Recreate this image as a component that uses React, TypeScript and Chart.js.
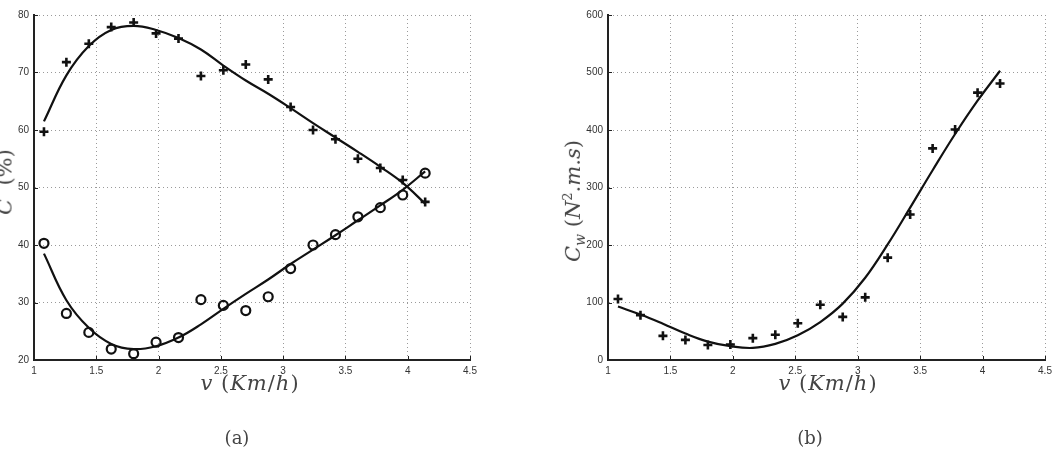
import React, { useEffect, useRef } from 'react';
import { Chart, registerables } from 'chart.js';
Chart.register(...registerables);

const speeds = [1.08, 1.26, 1.44, 1.62, 1.8, 1.98, 2.16, 2.34, 2.52, 2.7, 2.88, 3.06, 3.24, 3.42, 3.6, 3.78, 3.96, 4.14];
const effPlus = [59.7, 71.8, 75.0, 77.9, 78.7, 76.8, 75.9, 69.4, 70.4, 71.4, 68.8, 64.0, 60.0, 58.4, 55.0, 53.4, 51.3, 47.5];
const effPlusFit = [61.5, 69.5, 74.6, 77.4, 78.1, 77.4, 76.0, 74.0, 71.2, 68.6, 66.3, 63.8, 61.2, 58.7, 56.2, 53.6, 50.8, 47.2];
const effCircle = [40.3, 28.1, 24.8, 21.9, 21.1, 23.1, 23.9, 30.5, 29.5, 28.6, 31.0, 35.9, 40.0, 41.8, 44.9, 46.5, 48.7, 52.5];
const effCircleFit = [38.5, 30.4, 25.6, 22.8, 21.9, 22.4, 23.9, 26.2, 28.9, 31.5, 34.0, 36.7, 39.2, 41.7, 44.3, 46.9, 49.6, 52.8];
const costPlus = [106, 78, 42, 35, 26, 27, 38, 44, 64, 96, 75, 109, 178, 253, 368, 401, 465, 481];
const costFit = [93, 79, 63, 46, 32, 24, 21, 28, 43, 66, 98, 143, 201, 265, 330, 393, 451, 503];
const xTicks = [1, 1.5, 2, 2.5, 3, 3.5, 4, 4.5];
const effTicks = [20, 30, 40, 50, 60, 70, 80];
const costTicks = [0, 100, 200, 300, 400, 500, 600];

const pts = (ys: number[]) => speeds.map((x, i) => ({ x, y: ys[i] }));

const inwardTicks = {
  id: 'inwardTicks',
  afterDatasetsDraw(chart: any) {
    const { ctx, scales } = chart;
    const xs = scales.x;
    const ys = scales.y;
    ctx.save();
    ctx.strokeStyle = '#222';
    ctx.lineWidth = 1;
    ctx.beginPath();
    xs.ticks.forEach((t: any) => {
      const px = Math.round(xs.getPixelForValue(t.value)) + 0.5;
      ctx.moveTo(px, ys.bottom);
      ctx.lineTo(px, ys.bottom - 4);
    });
    ys.ticks.forEach((t: any) => {
      const py = Math.round(ys.getPixelForValue(t.value)) + 0.5;
      ctx.moveTo(xs.left, py);
      ctx.lineTo(xs.left + 4, py);
    });
    ctx.stroke();
    ctx.restore();
  },
};

function makeOptions(yMin: number, yMax: number, yTicks: number[], yWidth: number, rightPad: number) {
  return {
    animation: false,
    responsive: false,
    maintainAspectRatio: false,
    devicePixelRatio: 1,
    layout: { padding: { top: 15, right: rightPad, left: 0, bottom: 0 } },
    plugins: { legend: { display: false }, tooltip: { enabled: false }, title: { display: false } },
    scales: {
      x: {
        type: 'linear',
        min: 1,
        max: 4.5,
        afterBuildTicks: (s: any) => { s.ticks = xTicks.map((v) => ({ value: v })); },
        afterFit: (s: any) => { s.height = 96; },
        grid: { color: '#9a9a9a', lineWidth: 1, drawTicks: false },
        border: { display: true, color: '#222', width: 2, dash: [1, 3] },
        ticks: {
          padding: 5,
          color: '#333',
          font: { family: 'Liberation Sans', size: 10 },
          callback: (v: any) => String(v),
          maxRotation: 0,
          autoSkip: false,
        },
      },
      y: {
        type: 'linear',
        min: yMin,
        max: yMax,
        afterBuildTicks: (s: any) => { s.ticks = yTicks.map((v) => ({ value: v })); },
        afterFit: (s: any) => { s.width = yWidth; },
        grid: { color: '#9a9a9a', lineWidth: 1, drawTicks: false },
        border: { display: true, color: '#222', width: 2, dash: [1, 3] },
        ticks: {
          padding: 5,
          color: '#333',
          font: { family: 'Liberation Sans', size: 10 },
          callback: (v: any) => String(v),
          autoSkip: false,
        },
      },
    },
  };
}

const fitStyle = {
  showLine: true,
  borderColor: '#111',
  borderWidth: 2.2,
  pointRadius: 0,
  fill: false,
  tension: 0.4,
};

const crossStyle = {
  showLine: false,
  pointStyle: 'cross',
  pointRadius: 4.5,
  pointBorderWidth: 2.6,
  pointBorderColor: '#111',
  pointBackgroundColor: '#111',
};

const circleStyle = {
  showLine: false,
  pointStyle: 'circle',
  pointRadius: 4.5,
  pointBorderWidth: 2.2,
  pointBorderColor: '#111',
  pointBackgroundColor: 'rgba(0,0,0,0)',
};

function EffChart() {
  const ref = useRef<HTMLCanvasElement>(null);
  useEffect(() => {
    const chart = new Chart(ref.current as HTMLCanvasElement, {
      type: 'scatter',
      data: {
        datasets: [
          { ...crossStyle, data: pts(effPlus), order: 1 } as any,
          { ...circleStyle, data: pts(effCircle), order: 1 } as any,
          { ...fitStyle, data: pts(effPlusFit), order: 2 } as any,
          { ...fitStyle, data: pts(effCircleFit), order: 2 } as any,
        ],
      },
      options: makeOptions(20, 80, effTicks, 34, 61) as any,
      plugins: [inwardTicks],
    });
    return () => chart.destroy();
  }, []);
  return <canvas ref={ref} width={531} height={456} style={{ position: 'absolute', left: 0, top: 0, width: 531, height: 456 }} />;
}

function CostChart() {
  const ref = useRef<HTMLCanvasElement>(null);
  useEffect(() => {
    const chart = new Chart(ref.current as HTMLCanvasElement, {
      type: 'scatter',
      data: {
        datasets: [
          { ...crossStyle, data: pts(costPlus), order: 1 } as any,
          { ...fitStyle, data: pts(costFit), order: 2 } as any,
        ],
      },
      options: makeOptions(0, 600, costTicks, 608 - 531, 1062 - 1045) as any,
      plugins: [inwardTicks],
    });
    return () => chart.destroy();
  }, []);
  return <canvas ref={ref} width={531} height={456} style={{ position: 'absolute', left: 531, top: 0, width: 531, height: 456 }} />;
}

const serif = '"DejaVu Serif", "Liberation Serif", serif';

export default function App() {
  const labelStyle: React.CSSProperties = {
    position: 'absolute',
    fontFamily: serif,
    fontSize: 21,
    color: '#444',
    whiteSpace: 'nowrap',
    transform: 'translate(-50%, -50%)',
    lineHeight: 1,
  };
  return (
    <div style={{ position: 'fixed', left: 0, top: 0, width: 1062, height: 456, background: '#fff', overflow: 'hidden' }}>
      <EffChart />
      <CostChart />
      <div style={{ ...labelStyle, left: 250, top: 383, letterSpacing: 1 }}>
        <i>v</i> (<i>Km</i>/<i>h</i>)
      </div>
      <div style={{ ...labelStyle, left: 828, top: 383, letterSpacing: 1 }}>
        <i>v</i> (<i>Km</i>/<i>h</i>)
      </div>
      <div style={{ ...labelStyle, left: 237, top: 438, fontSize: 18 }}>(a)</div>
      <div style={{ ...labelStyle, left: 810, top: 438, fontSize: 18 }}>(b)</div>
      <div style={{ ...labelStyle, left: 5, top: 182, transform: 'translate(-50%, -50%) rotate(-90deg)' }}>
        <i>C</i>&nbsp;&nbsp;(%)
      </div>
      <div style={{ ...labelStyle, left: 574, top: 201, transform: 'translate(-50%, -50%) rotate(-90deg)' }}>
        <i>C</i><sub style={{ fontSize: 14 }}><i>w</i></sub>&nbsp;(<i>N</i><sup style={{ fontSize: 13 }}>2</sup>.<i>m</i>.<i>s</i>)
      </div>
    </div>
  );
}
